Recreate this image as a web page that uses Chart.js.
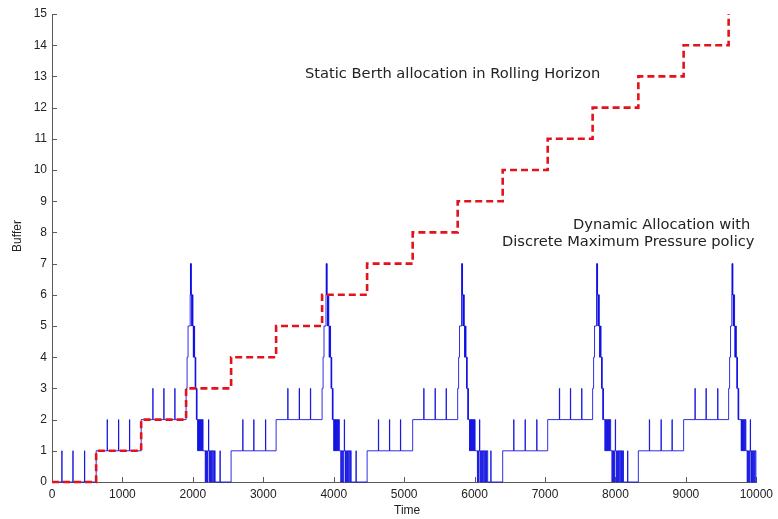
<!DOCTYPE html>
<html>
<head>
<meta charset="utf-8">
<script src="https://cdn.jsdelivr.net/npm/chart.js@4.4.1/dist/chart.umd.min.js"></script>
<style>
html,body{margin:0;padding:0;background:#fff;}
canvas{display:block;}
</style>
</head>
<body>
<canvas id="c" width="778" height="519" style="width:778px;height:519px"></canvas>
<script>
// ---- axis ticks ----
const xTickValues = [0,1000,2000,3000,4000,5000,6000,7000,8000,9000,10000];
const xTickLabels = ['0','1000','2000','3000','4000','5000','6000','7000','8000','9000','10000'];
const yTickValues = [0,1,2,3,4,5,6,7,8,9,10,11,12,13,14,15];
const yTickLabels = ['0','1','2','3','4','5','6','7','8','9','10','11','12','13','14','15'];

// ---- Static Berth allocation in Rolling Horizon: [time of change, new buffer level] ----
const staticSteps = [[0,0],[627,1],[1266,2],[1904,3],[2543,4],[3182,5],[3835,6],[4474,7],[5121,8],
  [5760,9],[6399,10],[7038,11],[7676,12],[8325,13],[8968,14],[9607,15]];

// ---- Dynamic allocation: [time of change, new buffer level] ----
const dynPre1 = [[0,0],[139,1],[143,0],[296,1],[300,0],[461,1],[465,0],[627,1],[783,2],[787,1],[944,2],[948,1],
  [1100,2],[1104,1],[1266,2],[1431,3],[1435,2],[1587,3],[1591,2],[1743,3],[1747,2]];
const dynPeak1 = [[1904,3],[1918,4],[1932,5],[1962,6],[1966,7],[1970,6],[1974,7],[1978,6],[1983,5],[1987,6],
  [1992,5],[1996,6],[2001,5],[2006,4],[2010,5],[2015,4],[2020,5],[2025,4],[2032,3],[2037,4],[2042,3],[2050,2],
  [2054,3],[2059,2],[2067,1],[2072,2],[2080,1],[2085,2],[2093,1],[2098,2],[2106,1],[2111,2],[2119,1],[2124,2],
  [2133,1],[2138,2],[2145,1],[2176,0],[2182,1],[2191,0],[2197,1],[2206,0],[2213,1],[2222,2],[2226,1],[2234,0],
  [2240,1],[2249,0],[2255,1],[2266,0],[2272,1],[2284,0],[2290,1],[2302,0],[2308,1],[2316,0],[2385,1],[2389,0]];
const dynPre2 = [[2543,1],[2708,2],[2712,1],[2864,2],[2868,1],[3031,2],[3035,1],[3182,2],[3347,3],[3351,2],
  [3510,3],[3514,2],[3669,3],[3673,2]];
const dynPeak2 = [[3835,3],[3849,4],[3862,5],[3890,6],[3893,7],[3897,6],[3902,7],[3906,6],[3911,5],[3915,6],
  [3920,5],[3924,6],[3930,5],[3935,4],[3939,5],[3944,4],[3949,5],[3955,4],[3962,3],[3967,4],[3972,3],[3980,2],
  [3985,3],[3990,2],[4000,1],[4004,2],[4012,1],[4017,2],[4025,1],[4030,2],[4038,1],[4043,2],[4052,1],[4057,2],
  [4066,1],[4071,2],[4080,1],[4100,0],[4106,1],[4115,0],[4121,1],[4130,0],[4137,1],[4150,2],[4154,1],[4162,0],
  [4168,1],[4177,0],[4184,1],[4195,0],[4201,1],[4213,0],[4219,1],[4231,0],[4237,1],[4248,0],[4316,1],[4320,0]];
const dynPre3 = [[4474,1],[4634,2],[4638,1],[4791,2],[4795,1],[4947,2],[4951,1],[5121,2],[5278,3],[5282,2],
  [5439,3],[5443,2],[5596,3],[5600,2]];
const dynPeak3 = [[5760,3],[5773,4],[5786,5],[5814,6],[5817,7],[5821,6],[5825,7],[5829,6],[5834,5],[5838,6],
  [5843,5],[5847,6],[5853,5],[5858,4],[5862,5],[5867,4],[5872,5],[5878,4],[5885,3],[5890,4],[5895,3],[5903,2],
  [5908,3],[5913,2],[5928,1],[5933,2],[5941,1],[5946,2],[5954,1],[5959,2],[5967,1],[5972,2],[5981,1],[5986,2],
  [5995,1],[6000,2],[6007,1],[6040,0],[6046,1],[6055,0],[6062,1],[6070,2],[6074,1],[6080,0],[6087,1],[6096,0],
  [6103,1],[6114,0],[6120,1],[6132,0],[6138,1],[6150,0],[6156,1],[6168,0],[6174,1],[6186,0],[6230,1],[6234,0]];
const dynPre4 = [[6399,1],[6555,2],[6559,1],[6717,2],[6721,1],[6882,2],[6886,1],[7038,2],[7204,3],[7208,2],
  [7360,3],[7364,2],[7520,3],[7524,2]];
const dynPeak4 = [[7676,3],[7690,4],[7703,5],[7731,6],[7734,7],[7738,6],[7742,7],[7746,6],[7751,5],[7755,6],
  [7760,5],[7764,6],[7770,5],[7775,4],[7779,5],[7784,4],[7789,5],[7795,4],[7802,3],[7807,4],[7812,3],[7820,2],
  [7825,3],[7830,2],[7850,1],[7855,2],[7863,1],[7868,2],[7876,1],[7881,2],[7889,1],[7894,2],[7903,1],[7908,2],
  [7917,1],[7922,2],[7932,1],[7950,0],[7956,1],[7965,0],[7972,1],[7981,0],[7988,1],[7998,2],[8002,1],[8010,0],
  [8017,1],[8026,0],[8033,1],[8044,0],[8050,1],[8062,0],[8068,1],[8080,0],[8086,1],[8098,0],[8104,1],[8114,0],
  [8172,1],[8176,0]];
const dynPre5 = [[8325,1],[8481,2],[8485,1],[8647,2],[8651,1],[8803,2],[8807,1],[8968,2],[9129,3],[9133,2],
  [9286,3],[9290,2],[9451,3],[9455,2]];
const dynPeak5 = [[9607,3],[9621,4],[9634,5],[9652,6],[9655,7],[9659,6],[9663,7],[9667,6],[9672,5],[9676,6],
  [9681,5],[9685,6],[9691,5],[9696,4],[9700,5],[9705,4],[9710,5],[9716,4],[9723,3],[9728,4],[9733,3],[9741,2],
  [9746,3],[9751,2],[9785,1],[9790,2],[9798,1],[9803,2],[9811,1],[9816,2],[9824,1],[9829,2],[9838,1],[9843,2],
  [9852,1],[9870,0],[9876,1],[9885,0],[9892,1],[9901,0],[9908,1],[9914,2],[9918,1],[9925,0],[9931,1],[9940,0],
  [9947,1],[9958,0],[9964,1],[9976,0],[9982,1],[9994,0],[10000,0]];

const annotations = [
  {text: 'Static Berth allocation in Rolling Horizon', x: 305, y: 74},
  {text: 'Dynamic Allocation with', x: 573, y: 225},
  {text: 'Discrete Maximum Pressure policy', x: 502, y: 242}
];
const xTitle = 'Time';
const yTitle = 'Buffer';

// ---- build datasets ----
const toXY = arr => arr.map(p => ({x: p[0], y: p[1]}));
const dynamicAll = [].concat(dynPre1, dynPeak1, dynPre2, dynPeak2, dynPre3, dynPeak3, dynPre4, dynPeak4, dynPre5, dynPeak5);

const axisColor = '#5a5a5a';
const labelFont = {family: '"Liberation Sans", Arial, Helvetica, sans-serif', size: 12};

const overlay = {
  id: 'overlay',
  beforeDatasetsDraw(chart) {
    const {ctx, chartArea} = chart;
    const xs = chart.scales.x, ys = chart.scales.y;
    ctx.save();
    ctx.strokeStyle = axisColor;
    ctx.lineWidth = 1;
    xTickValues.forEach(v => {
      const px = Math.round(xs.getPixelForValue(v)) + 0.5;
      ctx.beginPath(); ctx.moveTo(px, chartArea.bottom); ctx.lineTo(px, chartArea.bottom - 5); ctx.stroke();
    });
    yTickValues.forEach(v => {
      const py = Math.round(ys.getPixelForValue(v)) + 0.5;
      ctx.beginPath(); ctx.moveTo(chartArea.left, py); ctx.lineTo(chartArea.left + 5, py); ctx.stroke();
    });
    ctx.restore();
  },
  afterDraw(chart) {
    const {ctx, chartArea} = chart;
    ctx.save();
    ctx.fillStyle = '#222';
    ctx.font = '14.67px "DejaVu Sans", Verdana, sans-serif';
    ctx.textBaseline = 'middle';
    ctx.textAlign = 'left';
    annotations.forEach(a => ctx.fillText(a.text, a.x, a.y));
    ctx.font = '12px "Liberation Sans", Arial, Helvetica, sans-serif';
    ctx.textAlign = 'center';
    ctx.fillText(xTitle, (chartArea.left + chartArea.right) / 2 + 3, 511);
    ctx.translate(18, 236);
    ctx.rotate(-Math.PI / 2);
    ctx.fillText(yTitle, 0, 0);
    ctx.restore();
  }
};

new Chart(document.getElementById('c'), {
  type: 'line',
  data: {
    datasets: [
      {
        label: 'Static Berth allocation in Rolling Horizon',
        data: toXY(staticSteps),
        stepped: 'before',
        borderColor: '#e3131b',
        borderWidth: 2.6,
        borderDash: [7, 4],
        pointRadius: 0,
        fill: false,
        clip: false,
        order: 0
      },
      {
        label: 'Dynamic Allocation with Discrete Maximum Pressure policy',
        data: toXY(dynamicAll),
        stepped: 'before',
        borderColor: 'rgba(10,10,225,0.85)',
        borderWidth: 1,
        pointRadius: 0,
        fill: false,
        clip: false,
        order: 1
      }
    ]
  },
  options: {
    responsive: false,
    animation: false,
    devicePixelRatio: 1,
    events: [],
    layout: {padding: {left: 0, right: 21, top: 14, bottom: 0}},
    plugins: {legend: {display: false}, tooltip: {enabled: false}},
    scales: {
      x: {
        type: 'linear', min: 0, max: 10000,
        afterBuildTicks: s => { s.ticks = xTickValues.map(v => ({value: v})); },
        afterFit: s => { s.height = 37; },
        ticks: {
          font: labelFont, color: '#222', padding: 5, maxRotation: 0, autoSkip: false,
          callback: (v, i) => xTickLabels[i]
        },
        grid: {display: false, drawTicks: false},
        border: {display: true, color: axisColor, width: 1}
      },
      y: {
        type: 'linear', min: 0, max: 15,
        afterBuildTicks: s => { s.ticks = yTickValues.map(v => ({value: v})); },
        afterFit: s => { s.width = 52; },
        ticks: {
          font: labelFont, color: '#222', padding: 5, autoSkip: false,
          callback: (v, i) => yTickLabels[i]
        },
        grid: {display: false, drawTicks: false},
        border: {display: true, color: axisColor, width: 1}
      }
    }
  },
  plugins: [overlay]
});
</script>
</body>
</html>
